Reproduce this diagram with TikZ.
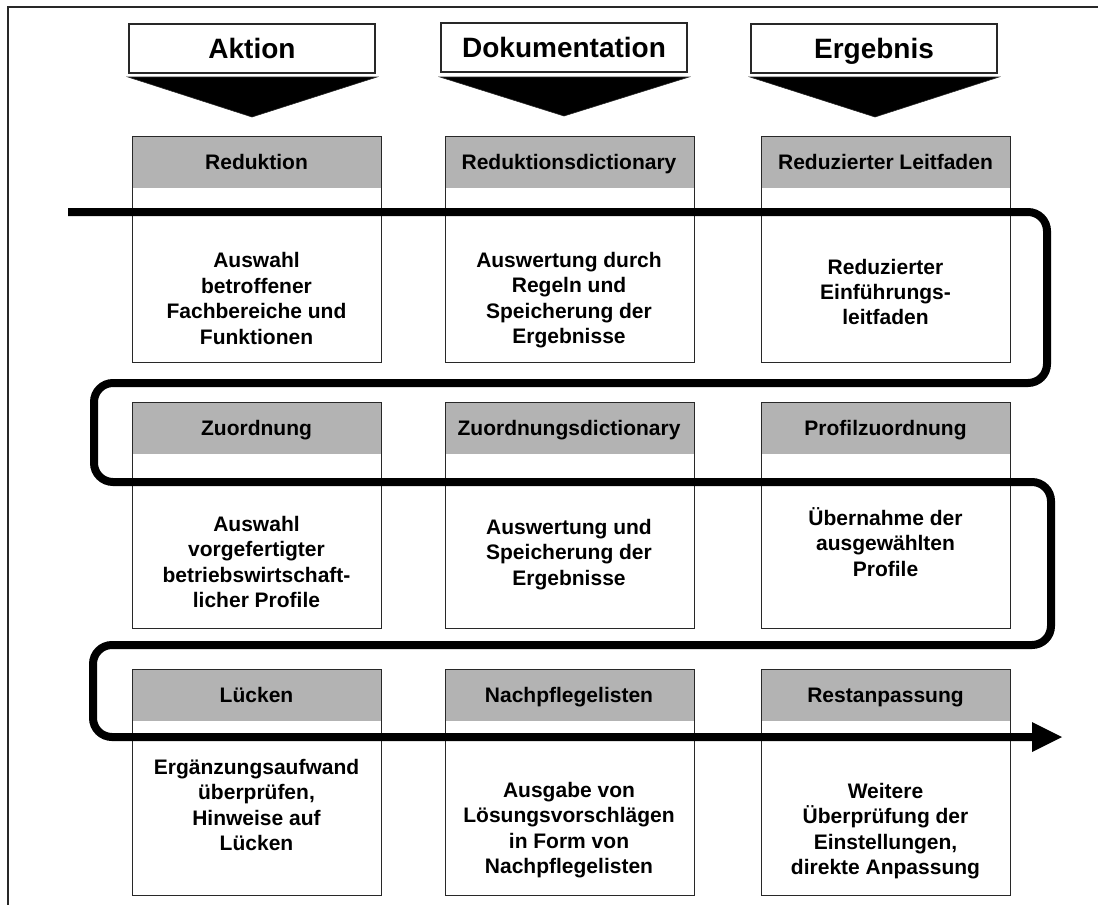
\documentclass[tikz,border=0pt]{standalone}
\usepackage{fontspec}
\setmainfont{Liberation Sans}
\usetikzlibrary{arrows.meta}
\definecolor{bandgray}{RGB}{179,179,179}
\definecolor{edgegray}{RGB}{40,40,40}
\begin{document}
\begin{tikzpicture}[x=1pt,y=-1pt,
  headbox/.style={draw=edgegray,line width=1.2pt,fill=white,minimum width=246pt,minimum height=49pt,
    inner sep=0pt,text height=20pt,text depth=0pt,font=\fontsize{28}{32}\selectfont\bfseries},
  headtip/.style={fill=black,draw=edgegray,line width=0.6pt},
  cellbox/.style={draw=edgegray,line width=1.2pt,fill=white,anchor=north west,
    minimum width=249pt,minimum height=226pt,inner sep=0pt,
    path picture={\fill[bandgray] (path picture bounding box.north west)
      rectangle ([yshift=-51pt]path picture bounding box.north east);}},
  celltitle/.style={font=\fontsize{21}{25}\selectfont\bfseries,inner sep=0pt,
    text height=15pt,text depth=0pt},
  celltext/.style={font=\fontsize{21}{25.4}\selectfont\bfseries,align=center,inner sep=0pt},
  flow/.style={line width=8pt,rounded corners=19pt}
]
\useasboundingbox (0,0) rectangle (1098,905);
\fill[white] (0,0) rectangle (1098,905);
% outer frame (top and left edge)
\draw[edgegray,line width=1.2pt] (1098,7) -- (8,7) -- (8,905);

% column headers with downward wedges
\node[headbox] (hA) at (252,48.5) {Aktion};
\node[headbox] (hD) at (564,47.5) {Dokumentation};
\node[headbox] (hE) at (874,48.5) {Ergebnis};
\draw[headtip] (128,77) -- (377,77) -- (252,117) -- cycle;
\draw[headtip] (440,77) -- (689,77) -- (564,116) -- cycle;
\draw[headtip] (750,77) -- (999,77) -- (875,117) -- cycle;

% row 1
\node[cellbox] (r1c1) at (132,136) {};
\node[cellbox] (r1c2) at (444.5,136) {};
\node[cellbox] (r1c3) at (761,136) {};
\node[celltitle] (r1c1t) at (256.5,162) {Reduktion};
\node[celltitle] (r1c2t) at (569,162) {Reduktionsdictionary};
\node[celltitle] (r1c3t) at (885.5,162) {Reduzierter Leitfaden};
\node[celltext] (r1c1b) at (256.5,298.5) {Auswahl\\betroffener\\Fachbereiche und\\Funktionen};
\node[celltext] (r1c2b) at (569,300) {Auswertung durch\\Regeln und\\Speicherung der\\Ergebnisse};
\node[celltext] (r1c3b) at (885.5,292) {Reduzierter\\Einführungs-\\leitfaden};

% row 2
\node[cellbox] (r2c1) at (132,402) {};
\node[cellbox] (r2c2) at (444.5,402) {};
\node[cellbox] (r2c3) at (761,402) {};
\node[celltitle] (r2c1t) at (256.5,428) {Zuordnung};
\node[celltitle] (r2c2t) at (569,428) {Zuordnungsdictionary};
\node[celltitle] (r2c3t) at (885.5,428) {Profilzuordnung};
\node[celltext] (r2c1b) at (256.5,562) {Auswahl\\vorgefertigter\\betriebswirtschaft-\\licher Profile};
\node[celltext] (r2c2b) at (569,554.5) {Auswertung und\\Speicherung der\\Ergebnisse};
\node[celltext] (r2c3b) at (885.5,542) {Übernahme der\\ausgewählten\\Profile};

% row 3
\node[cellbox] (r3c1) at (132,669) {};
\node[cellbox] (r3c2) at (444.5,669) {};
\node[cellbox] (r3c3) at (761,669) {};
\node[celltitle] (r3c1t) at (256.5,695) {Lücken};
\node[celltitle] (r3c2t) at (569,695) {Nachpflegelisten};
\node[celltitle] (r3c3t) at (885.5,695) {Restanpassung};
\node[celltext] (r3c1b) at (256.5,805) {Ergänzungsaufwand\\überprüfen,\\Hinweise auf\\Lücken};
\node[celltext] (r3c2b) at (569,830) {Ausgabe von\\Lösungsvorschlägen\\in Form von\\Nachpflegelisten};
\node[celltext] (r3c3b) at (885.5,831) {Weitere\\Überprüfung der\\Einstellungen,\\direkte Anpassung};

% serpentine process line
\coordinate (start) at (68,212);
\coordinate (finish) at (1062,737);
\draw[flow] (start) -- (1047,212) -- (1047,383) -- (94,383) -- (94,482)
  -- (1051,482) -- (1051,645) -- (93,645) -- (93,737) -- (1034,737);
\fill (1032,722) -- (finish) -- (1032,752) -- cycle;
\end{tikzpicture}
\end{document}
